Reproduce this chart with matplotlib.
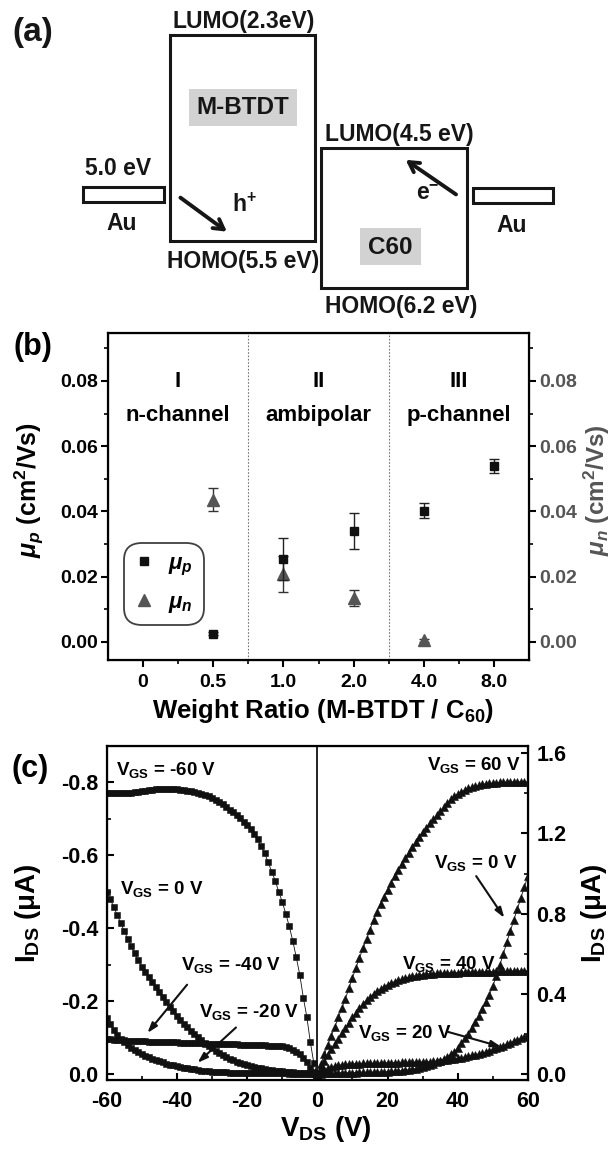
import numpy as np
import matplotlib
matplotlib.use("Agg")
import matplotlib.pyplot as plt
from matplotlib.patches import Rectangle
from matplotlib.ticker import MultipleLocator, FixedLocator

plt.rcParams['font.family'] = ['Liberation Sans', 'DejaVu Sans']
plt.rcParams['font.weight'] = 'bold'
plt.rcParams['axes.unicode_minus'] = False
plt.rcParams['mathtext.fontset'] = 'custom'
plt.rcParams['mathtext.rm'] = 'Liberation Sans:bold'
plt.rcParams['mathtext.bf'] = 'Liberation Sans:bold'
plt.rcParams['mathtext.it'] = 'Liberation Sans:italic:bold'

# ---------------- data ----------------
# (b) mobility vs weight ratio
ratio_labels = ['0', '0.5', '1.0', '2.0', '4.0', '8.0']
mup_ratio = ['0.5', '1.0', '2.0', '4.0', '8.0']
mup_val = [0.0025, 0.0254, 0.0340, 0.0402, 0.0540]
mup_err = [0.0005, 0.0065, 0.0056, 0.0022, 0.0022]
mun_ratio = ['0.5', '1.0', '2.0', '4.0']
mun_val = [0.0435, 0.0208, 0.0135, 0.0004]
mun_err = [0.0035, 0.0055, 0.0025, 0.0004]
regions = ['I\nn-channel', 'II\nambipolar', 'III\np-channel']

# (c) output characteristics
vds_neg = np.arange(-60, 1, 1)
vds_pos = np.arange(0, 61, 1)
ids_vgs_m60 = [-0.771, -0.771, -0.771, -0.771, -0.771, -0.771, -0.771, -0.771, -0.772, -0.773,
               -0.775, -0.777, -0.778, -0.779, -0.780, -0.780, -0.780, -0.780, -0.780, -0.780,
               -0.780, -0.779, -0.778, -0.777, -0.775, -0.773, -0.771, -0.768, -0.765, -0.761,
               -0.757, -0.752, -0.746, -0.740, -0.733, -0.725, -0.717, -0.709, -0.701, -0.692,
               -0.682, -0.671, -0.658, -0.643, -0.625, -0.605, -0.580, -0.555, -0.530, -0.500,
               -0.472, -0.440, -0.405, -0.365, -0.320, -0.272, -0.210, -0.157, -0.088, -0.030,
               0.000]
ids_vgs_m40 = [-0.095, -0.095, -0.094, -0.094, -0.093, -0.093, -0.092, -0.092, -0.091, -0.091,
               -0.090, -0.090, -0.089, -0.089, -0.089, -0.088, -0.088, -0.088, -0.087, -0.087,
               -0.087, -0.086, -0.086, -0.086, -0.085, -0.085, -0.085, -0.085, -0.084, -0.084,
               -0.084, -0.084, -0.083, -0.083, -0.083, -0.082, -0.082, -0.082, -0.081, -0.081,
               -0.080, -0.080, -0.080, -0.079, -0.079, -0.079, -0.078, -0.078, -0.078, -0.077,
               -0.076, -0.074, -0.071, -0.067, -0.062, -0.055, -0.045, -0.032, -0.018, -0.007,
               0.000]
ids_vgs_m20 = [-0.155, -0.138, -0.122, -0.108, -0.097, -0.087, -0.079, -0.072, -0.066, -0.060,
               -0.055, -0.050, -0.046, -0.042, -0.038, -0.035, -0.032, -0.029, -0.026, -0.024,
               -0.022, -0.020, -0.018, -0.016, -0.014, -0.013, -0.011, -0.010, -0.009, -0.008,
               -0.007, -0.006, -0.006, -0.005, -0.005, -0.004, -0.004, -0.004, -0.003, -0.003,
               -0.003, -0.003, -0.003, -0.003, -0.002, -0.002, -0.002, -0.002, -0.002, -0.002,
               -0.002, -0.002, -0.001, -0.001, -0.001, -0.001, -0.001, -0.001, -0.001, -0.001,
               0.000]
ids_vgs_0n = [-0.500, -0.480, -0.458, -0.436, -0.414, -0.392, -0.371, -0.350, -0.331, -0.312,
              -0.294, -0.280, -0.266, -0.252, -0.239, -0.225, -0.211, -0.197, -0.184, -0.172,
              -0.160, -0.149, -0.138, -0.128, -0.119, -0.110, -0.101, -0.093, -0.085, -0.078,
              -0.071, -0.064, -0.058, -0.052, -0.047, -0.042, -0.038, -0.034, -0.031, -0.028,
              -0.025, -0.022, -0.020, -0.018, -0.016, -0.014, -0.012, -0.011, -0.010, -0.009,
              -0.008, -0.007, -0.006, -0.005, -0.004, -0.004, -0.003, -0.002, -0.002, -0.001,
              0.000]
ids_vgs_p60 = [0.000, 0.048, 0.098, 0.146, 0.192, 0.236, 0.282, 0.330, 0.376, 0.428,
               0.480, 0.530, 0.580, 0.627, 0.672, 0.720, 0.770, 0.810, 0.850, 0.885,
               0.920, 0.955, 0.988, 1.018, 1.048, 1.077, 1.105, 1.132, 1.158, 1.183,
               1.207, 1.229, 1.250, 1.270, 1.290, 1.310, 1.330, 1.350, 1.370, 1.385,
               1.398, 1.408, 1.417, 1.425, 1.432, 1.437, 1.441, 1.445, 1.448, 1.450,
               1.452, 1.454, 1.455, 1.456, 1.457, 1.457, 1.458, 1.458, 1.458, 1.458,
               1.458]
ids_vgs_p40 = [0.000, 0.032, 0.064, 0.095, 0.124, 0.151, 0.177, 0.204, 0.230, 0.256,
               0.282, 0.306, 0.328, 0.350, 0.368, 0.385, 0.400, 0.413, 0.425, 0.436,
               0.446, 0.454, 0.461, 0.467, 0.473, 0.478, 0.483, 0.487, 0.490, 0.493,
               0.496, 0.498, 0.500, 0.501, 0.502, 0.503, 0.504, 0.505, 0.505, 0.506,
               0.506, 0.507, 0.507, 0.508, 0.508, 0.509, 0.509, 0.510, 0.510, 0.511,
               0.511, 0.512, 0.512, 0.513, 0.513, 0.514, 0.514, 0.514, 0.515, 0.515,
               0.515]
ids_vgs_p20 = [0.000, 0.010, 0.020, 0.028, 0.034, 0.039, 0.043, 0.046, 0.048, 0.050,
               0.051, 0.052, 0.052, 0.053, 0.053, 0.054, 0.054, 0.055, 0.055, 0.056,
               0.056, 0.057, 0.057, 0.057, 0.058, 0.058, 0.058, 0.059, 0.059, 0.060,
               0.060, 0.061, 0.062, 0.063, 0.065, 0.067, 0.069, 0.071, 0.073, 0.076,
               0.079, 0.082, 0.085, 0.089, 0.093, 0.097, 0.101, 0.106, 0.111, 0.117,
               0.123, 0.129, 0.135, 0.142, 0.149, 0.156, 0.163, 0.171, 0.179, 0.187,
               0.195]
ids_vgs_0p = [0.000, 0.002, 0.003, 0.004, 0.005, 0.005, 0.006, 0.006, 0.006, 0.007,
              0.007, 0.007, 0.008, 0.008, 0.008, 0.009, 0.009, 0.010, 0.010, 0.011,
              0.012, 0.013, 0.014, 0.015, 0.017, 0.019, 0.021, 0.024, 0.027, 0.031,
              0.035, 0.040, 0.046, 0.052, 0.059, 0.067, 0.076, 0.086, 0.098, 0.111,
              0.130, 0.155, 0.180, 0.200, 0.230, 0.260, 0.290, 0.325, 0.360, 0.395,
              0.440, 0.490, 0.545, 0.600, 0.660, 0.715, 0.770, 0.825, 0.880, 0.935,
              0.990]

# ---------------- figure ----------------
W, H = 615, 1149
fig = plt.figure(figsize=(W / 100, H / 100), dpi=100)

def fax(l, t, r, b):
    return [l / W, 1 - b / H, (r - l) / W, (b - t) / H]

ink = '#161616'

# ---------------- (a) energy diagram ----------------
axa = fig.add_axes([0, 1 - 320 / H, 1, 320 / H])
axa.set_xlim(0, W)
axa.set_ylim(320, 0)
axa.axis('off')
fs_a = 16.5
lw_box = 2.2
axa.add_patch(Rectangle((169.6, 35), 145.7, 205.7, fill=False, lw=lw_box, ec=ink))
axa.add_patch(Rectangle((321.2, 148.3), 146.1, 139.4, fill=False, lw=lw_box, ec=ink))
axa.add_patch(Rectangle((83.4, 187.3), 80.3, 14.4, fill=False, lw=lw_box, ec=ink))
axa.add_patch(Rectangle((472.8, 188.3), 80.2, 14.4, fill=False, lw=lw_box, ec=ink))
axa.add_patch(Rectangle((189.2, 89.3), 107.3, 36.7, fc='#d2d2d2', ec='none'))
axa.add_patch(Rectangle((360.4, 228.3), 60.6, 36.7, fc='#d2d2d2', ec='none'))
txt_a = [
    (33, 32, '(a)', 24),
    (244, 21.7, 'LUMO(2.3eV)', fs_a),
    (243, 108, 'M-BTDT', 17.5),
    (399.6, 135, 'LUMO(4.5 eV)', fs_a),
    (243, 261.7, 'HOMO(5.5 eV)', fs_a),
    (401.5, 306.7, 'HOMO(6.2 eV)', fs_a),
    (390.7, 247, 'C60', 17.5),
    (118, 168.3, '5.0 eV', fs_a),
    (121.4, 223.3, 'Au', fs_a),
    (511.2, 225, 'Au', fs_a),
    (244, 205, r'h$^{+}$', fs_a),
    (428, 193.3, r'e$^{-}$', fs_a),
]
for x, y, s, fs in txt_a:
    axa.text(x, y, s, fontsize=fs, fontweight='bold', ha='center', va='center', color=ink)
axa.annotate('', xy=(229.1, 233.3), xytext=(178.2, 196),
             arrowprops=dict(arrowstyle='->,head_length=0.7,head_width=0.4', lw=2.8, color=ink))
axa.annotate('', xy=(403.4, 158.3), xytext=(458.3, 196),
             arrowprops=dict(arrowstyle='->,head_length=0.7,head_width=0.4', lw=2.8, color=ink))

# ---------------- (b) mobility ----------------
axb = fig.add_axes(fax(107.7, 333.3, 529.3, 660))
xpos_p = [ratio_labels.index(r) for r in mup_ratio]
xpos_n = [ratio_labels.index(r) for r in mun_ratio]
gray = '#555555'
eb_p = axb.errorbar(xpos_p, mup_val, yerr=mup_err, fmt='s', color='#111111', ms=6,
                    ecolor='#222222', elinewidth=1.0, capsize=3.5, capthick=1.0, zorder=4)
eb_n = axb.errorbar(xpos_n, mun_val, yerr=mun_err, fmt='^', color=gray, ms=8.5,
                    ecolor='#333333', elinewidth=1.0, capsize=3.5, capthick=1.0, zorder=3)
axb.set_xlim(-0.5, 5.5)
axb.set_ylim(-0.0056, 0.0946)
axb.set_xticks(range(len(ratio_labels)))
axb.set_xticklabels(ratio_labels)
axb.xaxis.set_minor_locator(FixedLocator([0.5, 1.5, 2.5, 3.5, 4.5]))
axb.set_yticks([0, 0.02, 0.04, 0.06, 0.08])
axb.yaxis.set_minor_locator(FixedLocator([0.01, 0.03, 0.05, 0.07, 0.09]))
axb.yaxis.set_major_formatter(matplotlib.ticker.FormatStrFormatter('%.2f'))
axb.tick_params(axis='both', which='major', direction='out', length=5, width=1.5, labelsize=14, pad=2)
axb.tick_params(axis='x', which='major', pad=5)
axb.tick_params(axis='both', which='minor', direction='out', length=3, width=1.2)
for sp in axb.spines.values():
    sp.set_linewidth(1.6)
for xv in [1.5, 3.5]:
    axb.axvline(xv, ls=(0, (1.5, 1.5)), color='#777777', lw=0.8, zorder=1)
for i, s in enumerate(regions):
    name, sub = s.split('\n')
    axb.text(2 * i + 0.5, 0.0798, name, ha='center', va='center', fontsize=16, fontweight='bold')
    axb.text(2 * i + 0.5, 0.0695, sub, ha='center', va='center', fontsize=16, fontweight='bold')
axb.set_xlabel(r'Weight Ratio (M-BTDT / C$_{60}$)', fontsize=18.5, fontweight='bold')
axb.xaxis.set_label_coords(0.51, -0.112)
axb.set_ylabel(r'$\mu_p$ (cm$^{2}$/Vs)', fontsize=18, fontweight='bold')
axb.yaxis.set_label_coords(-0.146, 0.52)
axb2 = axb.twinx()
axb2.set_ylim(axb.get_ylim())
axb2.set_yticks([0, 0.02, 0.04, 0.06, 0.08])
axb2.yaxis.set_minor_locator(FixedLocator([0.01, 0.03, 0.05, 0.07, 0.09]))
axb2.yaxis.set_major_formatter(matplotlib.ticker.FormatStrFormatter('%.2f'))
axb2.tick_params(axis='y', which='major', direction='out', length=5, width=1.5, labelsize=14,
                 pad=2, labelcolor=gray)
axb2.tick_params(axis='y', which='minor', direction='out', length=3, width=1.2)
axb2.set_ylabel(r'$\mu_n$ (cm$^{2}$/Vs)', fontsize=17.5, fontweight='bold', color=gray, rotation=90)
axb2.yaxis.set_label_coords(1.124, 0.52)
leg = axb.legend([eb_p[0], eb_n[0]], [r'$\mu_p$', r'$\mu_n$'], loc='lower left',
                 bbox_to_anchor=(0.045, 0.113), fontsize=16, frameon=True, fancybox=True,
                 edgecolor='#111111', handlelength=0.8, handletextpad=0.7, labelspacing=0.62,
                 borderpad=0.38, borderaxespad=0)
leg.get_frame().set_linewidth(1.3)
leg.get_frame().set_boxstyle('round,pad=0.1,rounding_size=0.8')
axb.text(-0.177, 0.958, '(b)', transform=axb.transAxes, fontsize=22, fontweight='bold',
         ha='center', va='center')

# ---------------- (c) output curves ----------------
axc = fig.add_axes(fax(106.7, 745.7, 528, 1080))
for y in [ids_vgs_m60, ids_vgs_m40, ids_vgs_m20, ids_vgs_0n]:
    axc.plot(vds_neg, y, '-s', color='#111111', ms=4.5, lw=0.6, mew=0.4)
axc.axvline(0, color='#111111', lw=1.3)
axc.set_xlim(-60, 60)
axc.set_ylim(0.016, -0.9)
axc.set_xticks([-60, -40, -20, 0, 20, 40, 60])
axc.xaxis.set_minor_locator(MultipleLocator(10))
axc.set_yticks([0.0, -0.2, -0.4, -0.6, -0.8])
axc.yaxis.set_minor_locator(MultipleLocator(0.1))
axc.yaxis.set_major_formatter(matplotlib.ticker.FormatStrFormatter('%.1f'))
axc.tick_params(axis='both', which='major', direction='in', length=5, width=1.5, labelsize=15.5, pad=6)
axc.tick_params(axis='x', which='major', pad=8)
axc.tick_params(axis='both', which='minor', direction='in', length=3, width=1.2)
for sp in axc.spines.values():
    sp.set_linewidth(1.6)
axc.set_xlabel(r'$\mathbf{V_{DS}}$ (V)', fontsize=20, fontweight='bold')
axc.xaxis.set_label_coords(0.52, -0.102)
axc.set_ylabel(r'$\mathbf{I_{DS}}$ (μA)', fontsize=20, fontweight='bold')
axc.yaxis.set_label_coords(-0.152, 0.5)
axc2 = axc.twinx()
for y in [ids_vgs_p60, ids_vgs_p40, ids_vgs_p20, ids_vgs_0p]:
    axc2.plot(vds_pos, y, '-^', color='#111111', ms=6.0, lw=0.6, mew=0.4)
axc2.set_ylim(-0.03, 1.638)
axc2.set_yticks([0.0, 0.4, 0.8, 1.2, 1.6])
axc2.yaxis.set_minor_locator(MultipleLocator(0.2))
axc2.yaxis.set_major_formatter(matplotlib.ticker.FormatStrFormatter('%.1f'))
axc2.tick_params(axis='y', which='major', direction='in', length=5, width=1.5, labelsize=15.5, pad=6)
axc2.tick_params(axis='y', which='minor', direction='in', length=3, width=1.2)
axc2.set_ylabel(r'$\mathbf{I_{DS}}$ (μA)', fontsize=20, fontweight='bold', rotation=90)
axc2.yaxis.set_label_coords(1.122, 0.5)
axc.text(-0.182, 0.93, '(c)', transform=axc.transAxes, fontsize=22, fontweight='bold',
         ha='center', va='center')

fs_c = 13.5
lab = lambda v: r'$\mathbf{V_{GS}}$ = ' + v
axc.text(-57.3, -0.833, lab('-60 V'), fontsize=fs_c, fontweight='bold', ha='left', va='center')
axc.text(-56.2, -0.507, lab('0 V'), fontsize=fs_c, fontweight='bold', ha='left', va='center')
axc.text(-38.8, -0.299, lab('-40 V'), fontsize=fs_c, fontweight='bold', ha='left', va='center')
axc.text(-33.8, -0.170, lab('-20 V'), fontsize=fs_c, fontweight='bold', ha='left', va='center')
axc.text(58.1, -0.847, lab('60 V'), fontsize=fs_c, fontweight='bold', ha='right', va='center')
axc.text(33.1, -0.578, lab('0 V'), fontsize=fs_c, fontweight='bold', ha='left', va='center')
axc.text(24.1, -0.303, lab('40 V'), fontsize=fs_c, fontweight='bold', ha='left', va='center')
axc.text(11.6, -0.114, lab('20 V'), fontsize=fs_c, fontweight='bold', ha='left', va='center')
arr = dict(arrowstyle='-|>,head_length=0.6,head_width=0.2', lw=1.5, color='#111111')
for (x0, y0, x1, y1) in [(-36.6, -0.251, -48.9, -0.107), (-22.6, -0.133, -34.7, -0.026),
                         (44.8, -0.549, 53.7, -0.422), (36.4, -0.118, 53.1, -0.073)]:
    axc.annotate('', xy=(x1, y1), xytext=(x0, y0), arrowprops=arr)

fig.savefig('out.png', dpi=100)
